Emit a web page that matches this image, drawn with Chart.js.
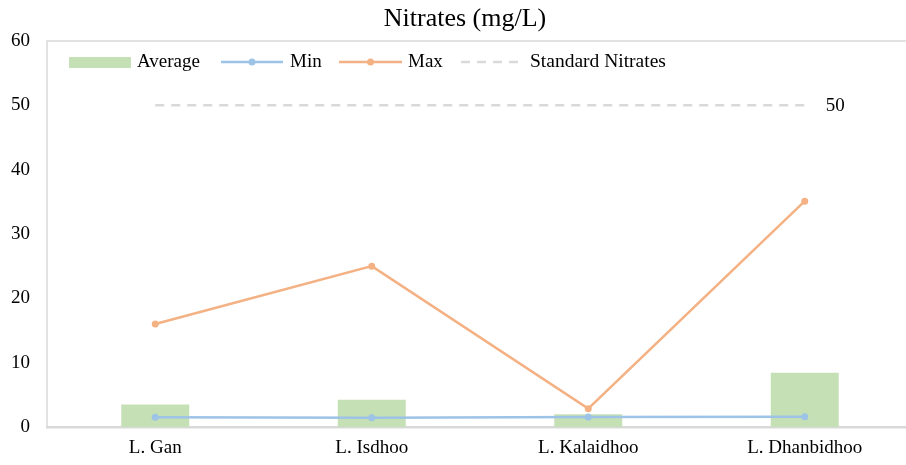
<!DOCTYPE html>
<html>
<head>
<meta charset="utf-8">
<script src="https://cdn.jsdelivr.net/npm/chart.js@4.4.1/dist/chart.umd.min.js"></script>
<style>
    html, body { margin: 0; padding: 0; background: #fff; overflow: hidden; }
    canvas { display: block; }
</style>
</head>
<body>
<canvas id="nitratesChart" width="917" height="465"></canvas>
<script>
// Données
const sites = ['L. Gan', 'L. Isdhoo', 'L. Kalaidhoo', 'L. Dhanbidhoo'];
const averageValues = [3.5, 4.25, 2.0, 8.45];
const minValues = [1.5, 1.45, 1.55, 1.6];
const maxValues = [16.0, 25.0, 2.85, 35.1];
const standardValues = [50, 50, 50, 50];
const standardLabel = '50';
const chartTitle = 'Nitrates (mg/L)';

const FONT = '"Liberation Serif", "Times New Roman", serif';
const GREEN = '#c5e0b4';
const BLUE = '#9dc3e6';
const ORANGE = '#f4b183';
const GREY = '#d9d9d9';

// Titre, cadre, légende et étiquette "50"
const decorPlugin = {
    id: 'decor',
    beforeDatasetsDraw(chart) {
        const { ctx, chartArea } = chart;
        ctx.save();
        ctx.strokeStyle = GREY;
        ctx.lineWidth = 1.5;
        ctx.beginPath();
        ctx.moveTo(chartArea.left, chartArea.bottom);
        ctx.lineTo(chartArea.left, chartArea.top);
        ctx.lineTo(chartArea.right, chartArea.top);
        ctx.stroke();
        ctx.restore();
    },
    afterDraw(chart) {
        const { ctx } = chart;
        ctx.save();
        // titre
        ctx.fillStyle = '#000';
        ctx.font = '26px ' + FONT;
        ctx.textAlign = 'center';
        ctx.textBaseline = 'middle';
        ctx.fillText(chartTitle, 465, 19);

        // étiquette de la norme
        const meta = chart.getDatasetMeta(3);
        const last = meta.data[meta.data.length - 1];
        ctx.font = '19px ' + FONT;
        ctx.textAlign = 'left';
        ctx.fillText(standardLabel, last.x + 21, last.y + 1);

        // légende
        const y = 62;
        ctx.textBaseline = 'middle';
        ctx.fillStyle = GREEN;
        ctx.fillRect(69, y - 5, 62, 11);
        ctx.fillStyle = '#000';
        ctx.fillText('Average', 137, y);

        const drawLineKey = (x0, x1, color, dash, dot) => {
            ctx.strokeStyle = color;
            ctx.lineWidth = 2.5;
            ctx.setLineDash(dash);
            ctx.beginPath();
            ctx.moveTo(x0, y);
            ctx.lineTo(x1, y);
            ctx.stroke();
            ctx.setLineDash([]);
            if (dot) {
                ctx.fillStyle = color;
                ctx.beginPath();
                ctx.arc((x0 + x1) / 2, y, 3.5, 0, Math.PI * 2);
                ctx.fill();
            }
        };
        drawLineKey(221, 283, BLUE, [], true);
        ctx.fillStyle = '#000';
        ctx.fillText('Min', 290, y);
        drawLineKey(339, 402, ORANGE, [], true);
        ctx.fillStyle = '#000';
        ctx.fillText('Max', 408, y);
        drawLineKey(461, 522, GREY, [9, 7], false);
        ctx.fillStyle = '#000';
        ctx.font = '19.5px ' + FONT;
        ctx.fillText('Standard Nitrates', 530, y);
        ctx.restore();
    }
};

const ctx = document.getElementById('nitratesChart').getContext('2d');
new Chart(ctx, {
    type: 'bar',
    data: {
        labels: sites,
        datasets: [
            {
                type: 'bar',
                label: 'Average',
                data: averageValues,
                backgroundColor: GREEN,
                borderWidth: 0,
                barPercentage: 0.314,
                categoryPercentage: 1,
                order: 4
            },
            {
                type: 'line',
                label: 'Min',
                data: minValues,
                borderColor: BLUE,
                backgroundColor: BLUE,
                borderWidth: 2.5,
                pointRadius: 3.5,
                pointBorderWidth: 0,
                tension: 0,
                order: 2
            },
            {
                type: 'line',
                label: 'Max',
                data: maxValues,
                borderColor: ORANGE,
                backgroundColor: ORANGE,
                borderWidth: 2.5,
                pointRadius: 3.5,
                pointBorderWidth: 0,
                tension: 0,
                order: 1
            },
            {
                type: 'line',
                label: 'Standard Nitrates',
                data: standardValues,
                borderColor: GREY,
                borderWidth: 2.5,
                borderDash: [9, 7],
                pointRadius: 0,
                order: 3
            }
        ]
    },
    options: {
        responsive: false,
        animation: false,
        layout: { padding: { top: 41, left: 0, right: 0, bottom: 0 } },
        plugins: {
            legend: { display: false },
            title: { display: false },
            tooltip: { enabled: false }
        },
        scales: {
            x: {
                grid: { display: false, drawTicks: false, tickLength: 0 },
                border: { display: true, color: GREY, width: 2.5 },
                ticks: { color: '#000', font: { family: FONT, size: 19 }, padding: 10 },
                afterFit(scale) { scale.height = 38; }
            },
            y: {
                min: 0,
                max: 60,
                grid: { display: false, drawTicks: false, tickLength: 0 },
                border: { display: false },
                ticks: { stepSize: 10, color: '#000', font: { family: FONT, size: 19 }, padding: 17 },
                afterFit(scale) { scale.width = 47; }
            }
        }
    },
    plugins: [decorPlugin]
});
</script>
</body>
</html>
